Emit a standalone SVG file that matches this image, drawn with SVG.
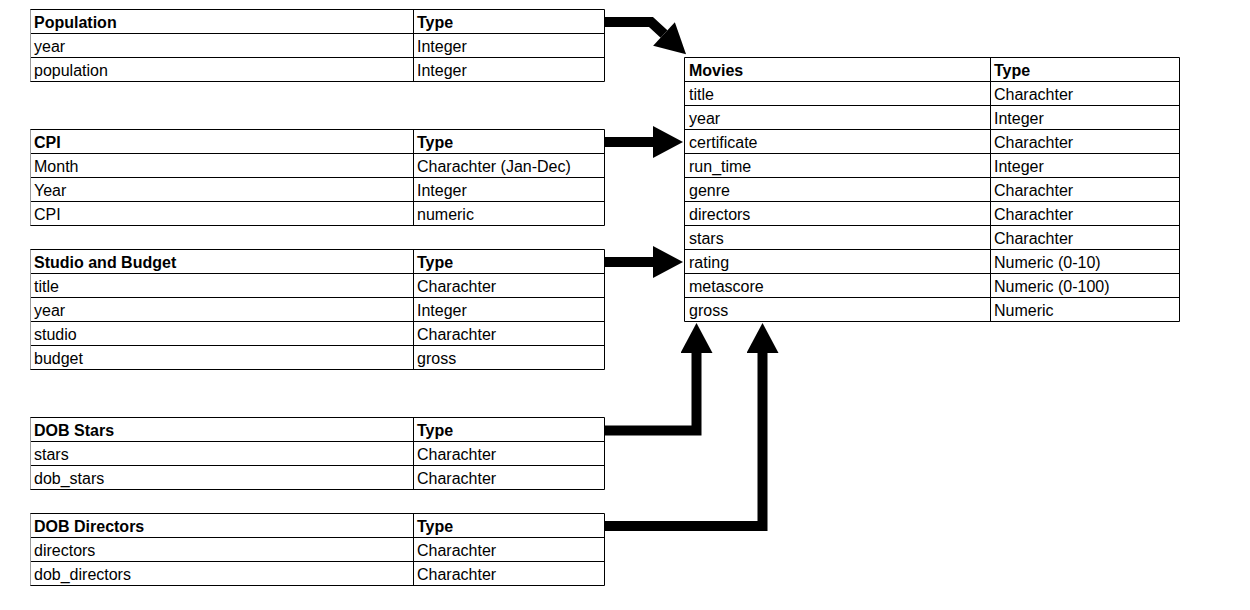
<svg xmlns="http://www.w3.org/2000/svg" width="1250" height="610" viewBox="0 0 1250 610">
<style>
text{font-family:"Liberation Sans",Arial,sans-serif;font-size:16px;fill:#000}
.h{font-weight:bold}
.g{stroke:#000;stroke-width:1;fill:none}
.l{stroke:#9a9a9a;stroke-width:1}
.a{stroke:#000;stroke-width:10;fill:none;stroke-linejoin:miter}
</style>
<defs>
<marker id="ah" markerUnits="userSpaceOnUse" markerWidth="32" markerHeight="32" refX="0" refY="16" orient="auto" viewBox="0 0 30 32">
<path d="M0,0 L30,16 L0,32 z" fill="#000"/>
</marker>
</defs>
<rect width="1250" height="610" fill="#fff"/>

<g id="population">
<path class="g" d="M30,9.5H604.5M30,33.5H604.5M30,57.5H604.5M30,81.5H604.5M413.5,9.5V81.5M604.5,9.5V81.5"/>
<path class="l" d="M30.5,9.5V81.5"/>
<text x="34" y="28" class="h">Population</text><text x="417" y="28" class="h">Type</text>
<text x="34" y="52">year</text><text x="417" y="52">Integer</text>
<text x="34" y="76">population</text><text x="417" y="76">Integer</text>
</g>

<g id="cpi">
<path class="g" d="M30,129.5H604.5M30,153.5H604.5M30,177.5H604.5M30,201.5H604.5M30,225.5H604.5M413.5,129.5V225.5M604.5,129.5V225.5"/>
<path class="l" d="M30.5,129.5V225.5"/>
<text x="34" y="148" class="h">CPI</text><text x="417" y="148" class="h">Type</text>
<text x="34" y="172">Month</text><text x="417" y="172">Charachter (Jan-Dec)</text>
<text x="34" y="196">Year</text><text x="417" y="196">Integer</text>
<text x="34" y="220">CPI</text><text x="417" y="220">numeric</text>
</g>

<g id="studio-budget">
<path class="g" d="M30,249.5H604.5M30,273.5H604.5M30,297.5H604.5M30,321.5H604.5M30,345.5H604.5M30,369.5H604.5M413.5,249.5V369.5M604.5,249.5V369.5"/>
<path class="l" d="M30.5,249.5V369.5"/>
<text x="34" y="268" class="h">Studio and Budget</text><text x="417" y="268" class="h">Type</text>
<text x="34" y="292">title</text><text x="417" y="292">Charachter</text>
<text x="34" y="316">year</text><text x="417" y="316">Integer</text>
<text x="34" y="340">studio</text><text x="417" y="340">Charachter</text>
<text x="34" y="364">budget</text><text x="417" y="364">gross</text>
</g>

<g id="dob-stars">
<path class="g" d="M30,417.5H604.5M30,441.5H604.5M30,465.5H604.5M30,489.5H604.5M413.5,417.5V489.5M604.5,417.5V489.5"/>
<path class="l" d="M30.5,417.5V489.5"/>
<text x="34" y="436" class="h">DOB Stars</text><text x="417" y="436" class="h">Type</text>
<text x="34" y="460">stars</text><text x="417" y="460">Charachter</text>
<text x="34" y="484">dob_stars</text><text x="417" y="484">Charachter</text>
</g>

<g id="dob-directors">
<path class="g" d="M30,513.5H604.5M30,537.5H604.5M30,561.5H604.5M30,585.5H604.5M413.5,513.5V585.5M604.5,513.5V585.5"/>
<path class="l" d="M30.5,513.5V585.5"/>
<text x="34" y="532" class="h">DOB Directors</text><text x="417" y="532" class="h">Type</text>
<text x="34" y="556">directors</text><text x="417" y="556">Charachter</text>
<text x="34" y="580">dob_directors</text><text x="417" y="580">Charachter</text>
</g>

<g id="movies">
<path class="g" d="M684.5,57.5H1179.5M684.5,81.5H1179.5M684.5,105.5H1179.5M684.5,129.5H1179.5M684.5,153.5H1179.5M684.5,177.5H1179.5M684.5,201.5H1179.5M684.5,225.5H1179.5M684.5,249.5H1179.5M684.5,273.5H1179.5M684.5,297.5H1179.5M684.5,321.5H1179.5M684.5,57.5V321.5M990.5,57.5V321.5M1179.5,57.5V321.5"/>
<text x="689" y="76" class="h">Movies</text><text x="994" y="76" class="h">Type</text>
<text x="689" y="100">title</text><text x="994" y="100">Charachter</text>
<text x="689" y="124">year</text><text x="994" y="124">Integer</text>
<text x="689" y="148">certificate</text><text x="994" y="148">Charachter</text>
<text x="689" y="172">run_time</text><text x="994" y="172">Integer</text>
<text x="689" y="196">genre</text><text x="994" y="196">Charachter</text>
<text x="689" y="220">directors</text><text x="994" y="220">Charachter</text>
<text x="689" y="244">stars</text><text x="994" y="244">Charachter</text>
<text x="689" y="268">rating</text><text x="994" y="268">Numeric (0-10)</text>
<text x="689" y="292">metascore</text><text x="994" y="292">Numeric (0-100)</text>
<text x="689" y="316">gross</text><text x="994" y="316">Numeric</text>
</g>

<g id="connectors">
<path class="a" d="M604,22H651L664,34" marker-end="url(#ah)"/>
<path class="a" d="M604,142H653" marker-end="url(#ah)"/>
<path class="a" d="M604,262H653" marker-end="url(#ah)"/>
<path class="a" d="M604,430.5H696.5V353" marker-end="url(#ah)"/>
<path class="a" d="M604,526H762.5V353" marker-end="url(#ah)"/>
</g>
</svg>
